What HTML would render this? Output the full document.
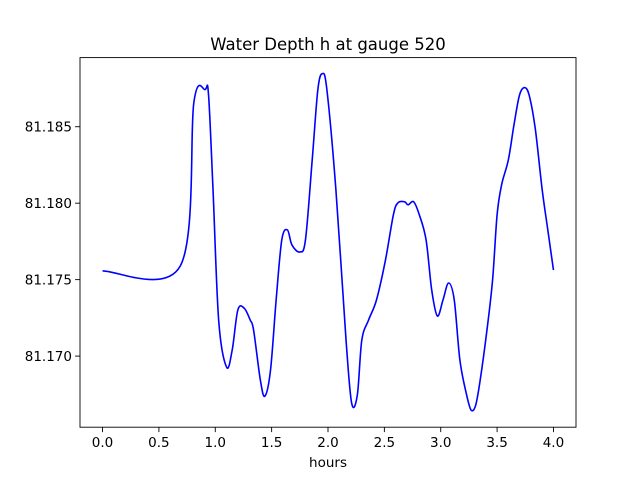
<!DOCTYPE html>
<html><head><meta charset="utf-8"><style>
html,body{margin:0;padding:0;background:#fff;}
svg{display:block;font-family:"DejaVu Sans","Liberation Sans",sans-serif;}
</style></head><body>
<svg id="chart" width="640" height="480" viewBox="0 0 640 480">
<rect x="0" y="0" width="640" height="480" fill="#fff"/>
<text x="328" y="50" text-anchor="middle" font-size="16.5" fill="#000">Water Depth h at gauge 520</text>
<g id="xticks"></g>
<g id="yticks"></g>
<path id="series" fill="none" stroke="#0000ff" stroke-width="1.6" stroke-linejoin="round"/>
<rect x="80" y="57.6" width="496" height="369.6" fill="none" stroke="#000" stroke-width="0.9"/>
<text x="328" y="467" text-anchor="middle" font-size="13.5" fill="#000">hours</text>
</svg>
<script>
const hours=[0.0,0.69,0.81,0.91,0.94,0.98,1.03,1.10,1.15,1.20,1.256,1.31,1.34,1.40,1.44,1.49,1.54,1.59,1.64,1.68,1.75,1.80,1.86,1.91,1.95,1.99,2.07,2.16,2.21,2.26,2.30,2.36,2.43,2.51,2.58,2.62,2.68,2.71,2.76,2.81,2.87,2.92,2.97,3.02,3.07,3.12,3.17,3.23,3.27,3.31,3.35,3.41,3.46,3.50,3.54,3.60,3.65,3.70,3.75,3.79,3.84,3.90,3.95,4.0];
const depth=[81.17557,81.17590,81.18658,81.18743,81.18710,81.18088,81.17236,81.16928,81.17039,81.17301,81.17314,81.17236,81.17170,81.16843,81.16738,81.16908,81.17367,81.17760,81.17825,81.17727,81.17681,81.17760,81.18284,81.18743,81.18847,81.18743,81.18088,81.17105,81.16692,81.16745,81.17105,81.17236,81.17367,81.17629,81.17924,81.18002,81.18009,81.17989,81.18009,81.17924,81.17760,81.17432,81.17262,81.17367,81.17478,81.17367,81.16974,81.16745,81.16646,81.16679,81.16843,81.17170,81.17498,81.17924,81.18120,81.18284,81.18513,81.18710,81.18755,81.18690,81.18480,81.18088,81.17825,81.17563];
const xTicks=[0.0,0.5,1.0,1.5,2.0,2.5,3.0,3.5,4.0];
const xTickLabels=["0.0","0.5","1.0","1.5","2.0","2.5","3.0","3.5","4.0"];
const yTicks=[81.170,81.175,81.180,81.185];
const yTickLabels=["81.170","81.175","81.180","81.185"];
const X0=80,X1=576,Y0=57.6,Y1=427.2;
const xMin=-0.2,xMax=4.2,yMin=81.16535,yMax=81.18952;
const sx=v=>X0+(v-xMin)/(xMax-xMin)*(X1-X0);
const sy=v=>Y1-(v-yMin)/(yMax-yMin)*(Y1-Y0);
const NS="http://www.w3.org/2000/svg";
const xg=document.getElementById('xticks'),yg=document.getElementById('yticks');
xTicks.forEach((t,i)=>{
  const l=document.createElementNS(NS,'line');
  l.setAttribute('x1',sx(t));l.setAttribute('x2',sx(t));l.setAttribute('y1',Y1);l.setAttribute('y2',Y1+4.9);l.setAttribute('stroke','#000');l.setAttribute('stroke-width','0.9');
  
  
  xg.appendChild(l);
  const tx=document.createElementNS(NS,'text');
  tx.setAttribute('x',sx(t));tx.setAttribute('y',Y1+20);tx.setAttribute('text-anchor','middle');tx.setAttribute('font-size','13.5');
  tx.textContent=xTickLabels[i];
  
  
  xg.appendChild(tx);
});
yTicks.forEach((t,i)=>{
  const l=document.createElementNS(NS,'line');
  l.setAttribute('x1',X0-4.9);l.setAttribute('x2',X0);l.setAttribute('y1',sy(t));l.setAttribute('y2',sy(t));l.setAttribute('stroke','#000');l.setAttribute('stroke-width','0.9');
  
  
  yg.appendChild(l);
  const tx=document.createElementNS(NS,'text');
  tx.setAttribute('x',X0-8);tx.setAttribute('y',sy(t)+5);tx.setAttribute('text-anchor','end');tx.setAttribute('font-size','13.5');
  tx.textContent=yTickLabels[i];
  
  
  yg.appendChild(tx);
});
const pts=hours.map((h,i)=>[sx(h),sy(depth[i])]);
let d='M'+pts[0][0]+','+pts[0][1];
for(let i=0;i<pts.length-1;i++){
  const p0=pts[Math.max(i-1,0)],p1=pts[i],p2=pts[i+1],p3=pts[Math.min(i+2,pts.length-1)];
  const c1=[p1[0]+(p2[0]-p0[0])/6,p1[1]+(p2[1]-p0[1])/6];
  const c2=[p2[0]-(p3[0]-p1[0])/6,p2[1]-(p3[1]-p1[1])/6];
  d+=' C'+c1[0]+','+c1[1]+' '+c2[0]+','+c2[1]+' '+p2[0]+','+p2[1];
}
document.getElementById('series').setAttribute('d',d);
</script>
</body></html>
